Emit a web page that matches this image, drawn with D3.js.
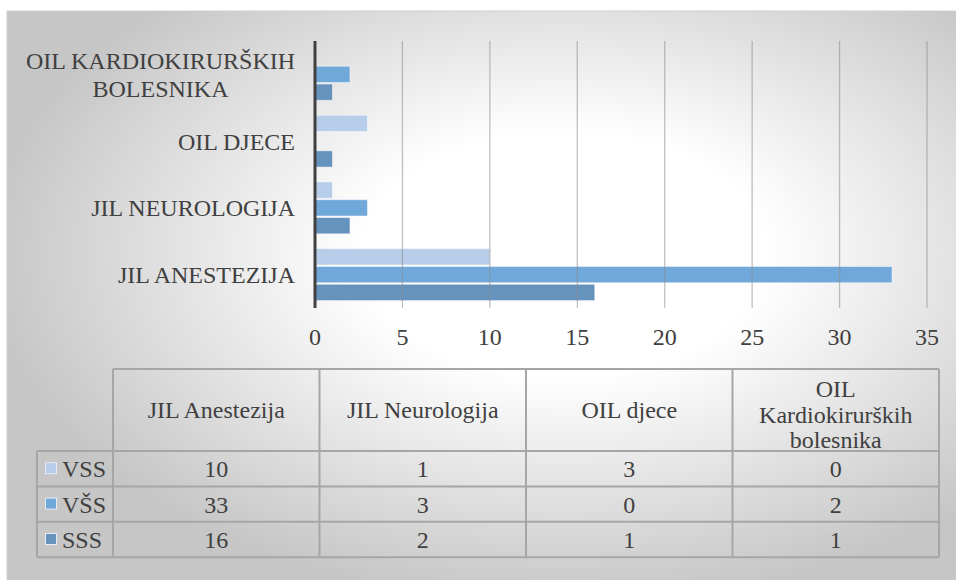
<!DOCTYPE html>
<html>
<head>
<meta charset="utf-8">
<script src="https://cdn.jsdelivr.net/npm/d3@7"></script>
</head>
<body style="margin:0">
<div id="chart"></div>
<script>
// data
var categories = ["JIL Anestezija", "JIL Neurologija", "OIL djece", "OIL Kardiokirurških bolesnika"];
var axisLabels = [["JIL ANESTEZIJA"], ["JIL NEUROLOGIJA"], ["OIL DJECE"], ["OIL KARDIOKIRURŠKIH", "BOLESNIKA"]];
var headerLabels = [["JIL Anestezija"], ["JIL Neurologija"], ["OIL djece"], ["OIL", "Kardiokirurških", "bolesnika"]];
var seriesNames = ["VSS", "VŠS", "SSS"];
var vssValues = [10, 1, 3, 0];
var vssBValues = [33, 3, 0, 2];
var sssValues = [16, 2, 1, 1];
var xTicks = [0, 5, 10, 15, 20, 25, 30, 35];

var seriesValues = [vssValues, vssBValues, sssValues];
var colors = ["#b7cde9", "#70a8da", "#6692be"];
var textColor = "#404040";

var svgWidth = 956;
var svgHeight = 580;

var svg = d3.select("#chart")
  .append("svg")
  .attr("width", svgWidth)
  .attr("height", svgHeight);

// labels use the browser's default (serif) face
function label(sel) {
  return sel
    .style("font-size", "24px")
    .attr("fill", textColor);
}

// background gradient
var defs = svg.append("defs");
var grad = defs.append("radialGradient")
  .attr("id", "bg")
  .attr("cx", 0.58).attr("cy", 0.42).attr("r", 0.6);
grad.append("stop").attr("offset", "0").attr("stop-color", "#ffffff");
grad.append("stop").attr("offset", "0.35").attr("stop-color", "#ffffff");
grad.append("stop").attr("offset", "1").attr("stop-color", "#c6c6c6");

svg.append("rect")
  .attr("x", 7).attr("y", 11)
  .attr("width", 960).attr("height", 580)
  .attr("fill", "url(#bg)")
  .attr("stroke", "#cfcfcf");

// plot area
var plot = { left: 315, right: 927, top: 41, bottom: 308 };

var x = d3.scaleLinear()
  .domain([0, 35])
  .range([plot.left, plot.right]);

var y = d3.scaleBand()
  .domain(categories.slice().reverse())
  .range([plot.top, plot.bottom])
  .paddingInner(0.2)
  .paddingOuter(0.1);

var ySub = d3.scaleBand()
  .domain(seriesNames)
  .range([0, y.bandwidth()]);

// bars
seriesNames.forEach(function(s, si) {
  svg.append("g").selectAll("rect")
    .data(categories)
    .enter()
    .append("rect")
    .attr("x", x(0))
    .attr("y", function(d) { return y(d) + ySub(s) + 0.75; })
    .attr("width", function(d, i) { return x(seriesValues[si][i]) - x(0); })
    .attr("height", ySub.bandwidth() - 1.5)
    .attr("fill", colors[si])
    .attr("stroke", "#ffffff")
    .attr("stroke-opacity", 0.5)
    .attr("stroke-width", 1);
});

// gridlines over bars (bars look see-through)
svg.append("g").selectAll("line")
  .data(xTicks.slice(1))
  .enter()
  .append("line")
  .attr("x1", function(d) { return x(d); })
  .attr("x2", function(d) { return x(d); })
  .attr("y1", plot.top)
  .attr("y2", plot.bottom)
  .attr("stroke", "#8c8c8c")
  .attr("stroke-opacity", 0.55)
  .attr("stroke-width", 1.3);

// value axis line at 0
svg.append("line")
  .attr("x1", x(0)).attr("x2", x(0))
  .attr("y1", plot.top).attr("y2", plot.bottom)
  .attr("stroke", "#404040")
  .attr("stroke-width", 3);

// x tick labels
label(svg.append("g").selectAll("text")
  .data(xTicks)
  .enter()
  .append("text")
  .attr("x", function(d) { return x(d); })
  .attr("y", 345)
  .attr("text-anchor", "middle"))
  .text(function(d) { return d; });

// category labels: single lines end at 295, the two-line one is centred
var labelRight = 295;
var labelCenter = 160.5;
categories.forEach(function(c, i) {
  var lines = axisLabels[i];
  var cy = y(c) + y.bandwidth() / 2;
  var lineH = 28;
  var multi = lines.length > 1;
  var t = label(svg.append("text")
    .attr("text-anchor", multi ? "middle" : "end"));
  lines.forEach(function(line, li) {
    t.append("tspan")
      .attr("x", multi ? labelCenter : labelRight)
      .attr("y", cy + 8.4 + (li - (lines.length - 1) / 2) * lineH)
      .text(line);
  });
});

// data table
var table = { left: 37, colStart: 113, right: 939, top: 369, headerBottom: 451, rowH: 35.4 };

var col = d3.scaleBand()
  .domain(categories)
  .range([table.colStart, table.right]);

var tableBottom = table.headerBottom + table.rowH * seriesNames.length;
var gridColor = "#a6a6a6";
var tg = svg.append("g");

// horizontal lines
tg.append("line")
  .attr("x1", table.colStart).attr("x2", table.right)
  .attr("y1", table.top).attr("y2", table.top);
d3.range(seriesNames.length + 1).forEach(function(r) {
  var yy = table.headerBottom + r * table.rowH;
  tg.append("line")
    .attr("x1", table.left).attr("x2", table.right)
    .attr("y1", yy).attr("y2", yy);
});
// vertical lines
tg.append("line")
  .attr("x1", table.left).attr("x2", table.left)
  .attr("y1", table.headerBottom).attr("y2", tableBottom);
categories.forEach(function(c) {
  tg.append("line")
    .attr("x1", col(c)).attr("x2", col(c))
    .attr("y1", table.top).attr("y2", tableBottom);
});
tg.append("line")
  .attr("x1", table.right).attr("x2", table.right)
  .attr("y1", table.top).attr("y2", tableBottom);
tg.selectAll("line")
  .attr("stroke", gridColor)
  .attr("stroke-width", 2);

// header text
var headerMid = (table.top + table.headerBottom) / 2;
categories.forEach(function(c, i) {
  var lines = headerLabels[i];
  var lineH = 25.5;
  var shift = lines.length > 1 ? 4.5 : 0;
  var t = label(svg.append("text")
    .attr("text-anchor", "middle"));
  lines.forEach(function(line, li) {
    t.append("tspan")
      .attr("x", col(c) + col.bandwidth() / 2)
      .attr("y", headerMid + 8.4 + shift + (li - (lines.length - 1) / 2) * lineH)
      .text(line);
  });
});

// rows: legend key, name, values
seriesNames.forEach(function(s, si) {
  var rowMid = table.headerBottom + table.rowH * (si + 0.5);
  svg.append("rect")
    .attr("x", 45.5).attr("y", rowMid - 6)
    .attr("width", 11).attr("height", 11)
    .attr("fill", colors[si])
    .attr("stroke", "#e4ecf5")
    .attr("stroke-width", 1);
  label(svg.append("text")
    .attr("x", 62)
    .attr("y", rowMid + 8.4))
    .text(s);
  label(svg.append("g").selectAll("text")
    .data(categories)
    .enter()
    .append("text")
    .attr("x", function(d) { return col(d) + col.bandwidth() / 2; })
    .attr("y", rowMid + 8.4)
    .attr("text-anchor", "middle"))
    .text(function(d, i) { return seriesValues[si][i]; });
});
</script>
</body>
</html>
